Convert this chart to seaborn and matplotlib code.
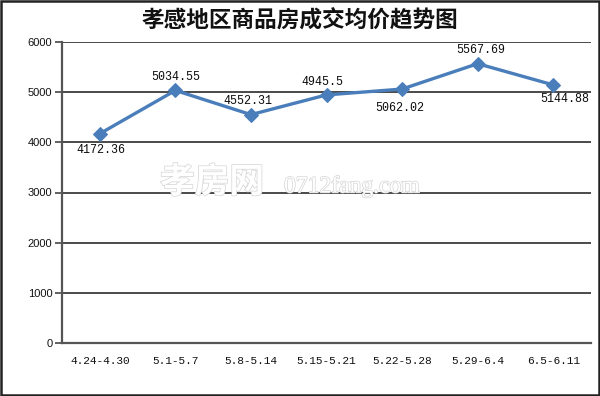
import matplotlib
matplotlib.use("Agg")
import matplotlib.pyplot as plt
import matplotlib.patheffects as pe
from matplotlib.patches import Rectangle
import seaborn as sns
import pandas as pd

# ---- data ----
categories = ["4.24-4.30", "5.1-5.7", "5.8-5.14", "5.15-5.21", "5.22-5.28", "5.29-6.4", "6.5-6.11"]
prices = [4172.36, 5034.55, 4552.31, 4945.5, 5062.02, 5567.69, 5144.88]
price_labels = ["4172.36", "5034.55", "4552.31", "4945.5", "5062.02", "5567.69", "5144.88"]
y_ticks = [0, 1000, 2000, 3000, 4000, 5000, 6000]
title_text = "孝感地区商品房成交均价趋势图"
watermark_cn = "孝房网"
watermark_en = "0712fang.com"

# label placement (offset in points from the marker)
label_offsets = [(1, -12), (0, 10), (-2, 10), (-3, 9), (-2, -14), (2, 10), (8, -10)]

sns.set_theme(style="white")
plt.rcParams["font.family"] = ["Noto Sans CJK SC", "DejaVu Sans"]

df = pd.DataFrame({"week": categories, "price": prices})

fig = plt.figure(figsize=(6.0, 3.96), dpi=100)
fig.patch.set_facecolor("white")
ax = fig.add_axes([62 / 600, 1 - 343 / 396, (591 - 62) / 600, (343 - 42) / 396])

# gridlines
for yv in y_ticks[1:]:
    ax.axhline(yv, color="#3c3c3c", lw=1.3, zorder=1)

line_color = "#4a7ebb"
sns.lineplot(data=df, x="week", y="price", sort=False, marker="D",
             color=line_color, lw=2.4, markersize=7, markeredgecolor=line_color,
             ax=ax, zorder=3)

mono = ["Liberation Mono", "DejaVu Sans Mono"]
for i, (v, lab) in enumerate(zip(prices, price_labels)):
    dx, dy = label_offsets[i]
    ax.annotate(lab, xy=(i, v), xytext=(dx, dy), textcoords="offset points",
                ha="center", va="center", fontsize=8.4,
                family=mono, color="#0a0a0a", zorder=4)

ax.set_xlim(-0.5, len(categories) - 0.5)
ax.set_ylim(0, 6000)
ax.set_yticks(y_ticks)
ax.set_yticklabels([str(t) for t in y_ticks], fontsize=8, family=["Liberation Sans", "DejaVu Sans"], color="#111111")
ax.set_xticks(range(len(categories)))
ax.set_xticklabels(categories, fontsize=8.0, family=mono, color="#111111")
ax.set_xticks([i - 0.5 for i in range(len(categories) + 1)], minor=True)
ax.tick_params(axis="x", which="major", length=0, pad=9)
ax.tick_params(axis="x", which="minor", length=5, width=1.3, color="#555555", direction="out")
ax.tick_params(axis="y", which="major", length=5, width=1.3, color="#555555", direction="out", pad=2, left=True)
ax.set_xlabel("")
ax.set_ylabel("")

for s in ["top", "right"]:
    ax.spines[s].set_visible(False)
for s in ["left", "bottom"]:
    ax.spines[s].set_color("#555555")
    ax.spines[s].set_linewidth(1.6)
ax.spines["bottom"].set_zorder(5)

# title
fig.text(0.5, 1 - 21 / 396, title_text, ha="center", va="center",
         fontsize=16.3, fontweight="bold", color="#111111")

# watermark
wm_fx = [pe.withStroke(linewidth=1.0, foreground="#d4d4d4")]
fig.text(160 / 600, 1 - 182 / 396, watermark_cn, ha="left", va="center",
         fontsize=25, fontweight="bold", color="white", path_effects=wm_fx, zorder=0.5)
fig.text(284 / 600, 1 - 187 / 396, watermark_en, ha="left", va="center",
         fontsize=17, family=["Liberation Serif", "DejaVu Serif"], color="white",
         path_effects=wm_fx, zorder=0.5)

# outer frame
fig.patches.append(Rectangle((0.001, 0.002), 0.997, 0.996, transform=fig.transFigure,
                             fill=False, edgecolor="#222222", lw=1.8))

fig.savefig("out.png", dpi=100)
